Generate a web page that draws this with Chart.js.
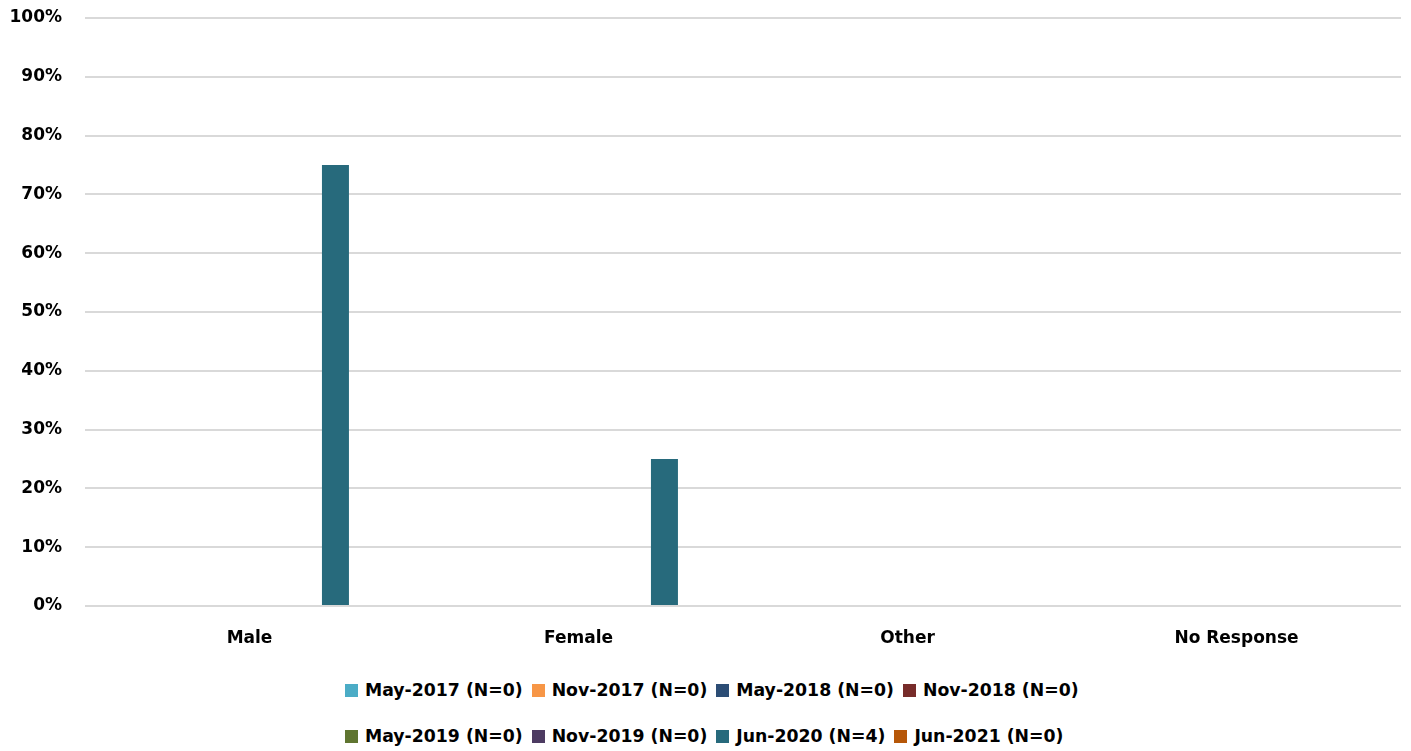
<!DOCTYPE html>
<html>
<head>
<meta charset="utf-8">
<script src="https://cdn.jsdelivr.net/npm/chart.js@4/dist/chart.umd.min.js"></script>
<style>
  body { margin: 0; background: #fff; font-family: 'DejaVu Sans', sans-serif; }
  #legend { margin-top: 7px; width: 1411px; }
  .row { display: flex; justify-content: flex-start; height: 46px; align-items: center; padding-left: 345px; }
  .item { display: flex; align-items: center; margin-right: 9px; font-weight: bold; font-size: 17.3px; color: #000; white-space: nowrap; }
  .box { width: 13px; height: 13px; margin-right: 7px; }
</style>
</head>
<body>
<canvas id="chart" width="1411" height="660"></canvas>
<div id="legend"></div>
<script>
const categories = ['Male', 'Female', 'Other', 'No Response'];
const seriesLabels = [
  'May-2017 (N=0)', 'Nov-2017 (N=0)', 'May-2018 (N=0)', 'Nov-2018 (N=0)',
  'May-2019 (N=0)', 'Nov-2019 (N=0)', 'Jun-2020 (N=4)', 'Jun-2021 (N=0)'
];
const seriesColors = ['#4bacc6', '#f79646', '#2c4d75', '#772c2a', '#5f7530', '#4d3b62', '#276a7c', '#b65708'];
const may2017 = [0, 0, 0, 0];
const nov2017 = [0, 0, 0, 0];
const may2018 = [0, 0, 0, 0];
const nov2018 = [0, 0, 0, 0];
const may2019 = [0, 0, 0, 0];
const nov2019 = [0, 0, 0, 0];
const jun2020 = [75, 25, 0, 0];
const jun2021 = [0, 0, 0, 0];
const seriesValues = [may2017, nov2017, may2018, nov2018, may2019, nov2019, jun2020, jun2021];

const FONT = { family: "'DejaVu Sans', sans-serif", size: 17, weight: 'bold' };

new Chart(document.getElementById('chart'), {
  type: 'bar',
  data: {
    labels: categories,
    datasets: seriesValues.map((vals, i) => ({
      label: seriesLabels[i],
      data: vals,
      backgroundColor: seriesColors[i],
      borderWidth: 0,
      categoryPercentage: 0.836,
      barPercentage: 0.785,
    })),
  },
  options: {
    responsive: false,
    animation: false,
    layout: { padding: { top: 18, right: 10, left: 0, bottom: 0 } },
    plugins: {
      legend: { display: false },
      tooltip: { enabled: false },
    },
    scales: {
      x: {
        grid: { display: false },
        border: { display: false },
        ticks: { color: '#000', font: FONT, padding: 14, maxRotation: 0 },
        afterFit: s => { s.height = 54; },
      },
      y: {
        min: 0,
        max: 100,
        grid: { color: '#d9d9d9', lineWidth: 2, drawTicks: false },
        border: { display: false },
        ticks: {
          stepSize: 10,
          color: '#000',
          font: FONT,
          padding: 23,
          callback: v => v + '%',
        },
        afterFit: s => { s.width = 85; s.paddingTop = 0; s.paddingBottom = 0; },
      },
    },
  },
});

const legend = document.getElementById('legend');
for (let r = 0; r < seriesLabels.length; r += 4) {
  const row = document.createElement('div');
  row.className = 'row';
  for (let i = r; i < r + 4; i++) {
    const item = document.createElement('div');
    item.className = 'item';
    item.innerHTML = `<span class="box" style="background:${seriesColors[i]}"></span>${seriesLabels[i]}`;
    row.appendChild(item);
  }
  legend.appendChild(row);
}
</script>
</body>
</html>
